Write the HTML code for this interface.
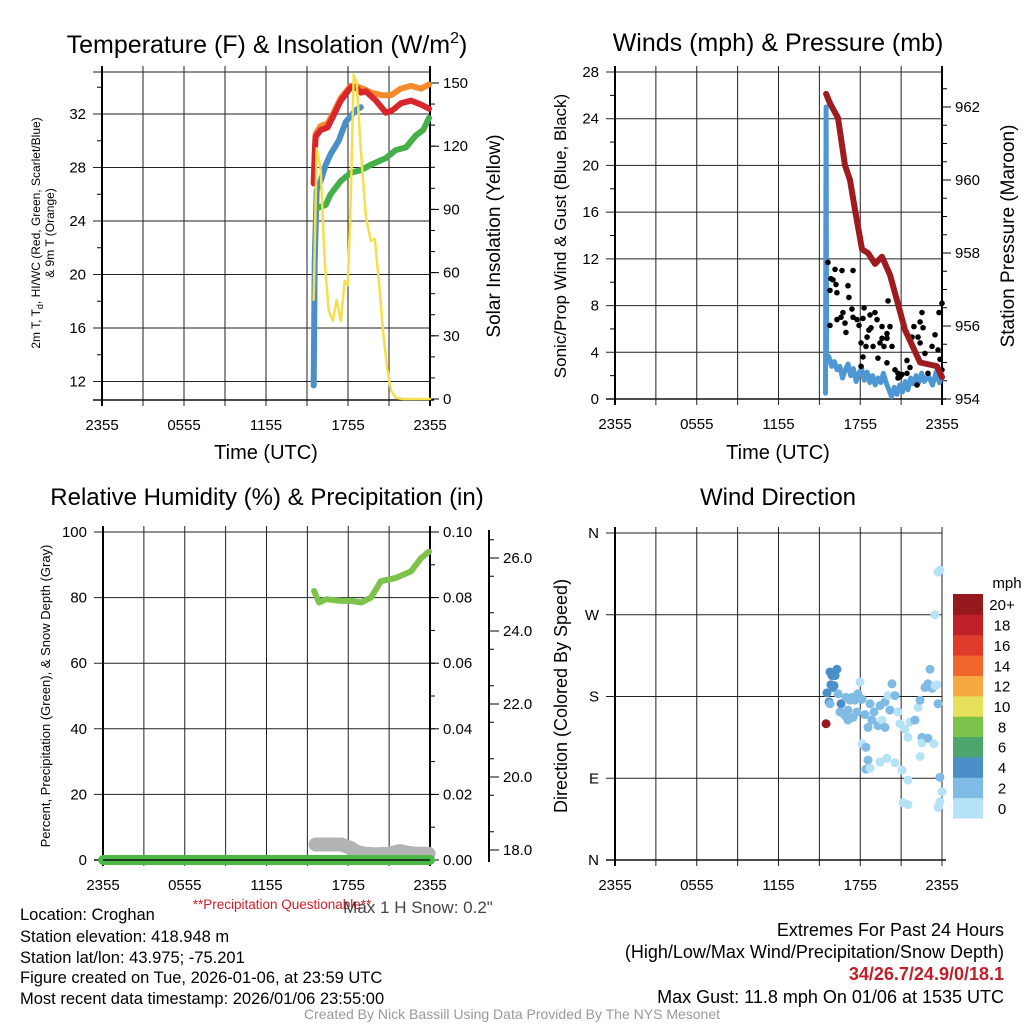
<!DOCTYPE html>
<html><head><meta charset="utf-8"><style>
html,body{margin:0;padding:0;background:#fff;}
svg{display:block;font-family:"Liberation Sans",sans-serif;}
</style></head><body>
<svg id="c" width="1024" height="1024" viewBox="0 0 1024 1024" xmlns="http://www.w3.org/2000/svg">
<g id="g1"></g>
<g id="g2"></g>
<g id="g3"></g>
<g id="g4"></g>
<text x="267" y="53" font-size="25" text-anchor="middle">Temperature (F) &amp; Insolation (W/m<tspan dy="-10" font-size="16">2</tspan><tspan dy="10">)</tspan></text>
<text x="778" y="51" font-size="25" text-anchor="middle">Winds (mph) &amp; Pressure (mb)</text>
<text x="267" y="505" font-size="24" text-anchor="middle">Relative Humidity (%) &amp; Precipitation (in)</text>
<text x="778" y="505" font-size="24" text-anchor="middle">Wind Direction</text>
<text transform="translate(40,233) rotate(-90)" font-size="12" text-anchor="middle">2m T, T<tspan dy="3" font-size="9">d</tspan><tspan dy="-3">, HI/WC (Red, Green, Scarlet/Blue)</tspan></text>
<text transform="translate(54,233) rotate(-90)" font-size="12" text-anchor="middle">&amp; 9m T (Orange)</text>
<text transform="translate(500,236) rotate(-90)" font-size="19" text-anchor="middle">Solar Insolation (Yellow)</text>
<text transform="translate(566,236) rotate(-90)" font-size="17" text-anchor="middle">Sonic/Prop Wind &amp; Gust (Blue, Black)</text>
<text transform="translate(1014,236) rotate(-90)" font-size="19" text-anchor="middle">Station Pressure (Maroon)</text>
<text transform="translate(50,696) rotate(-90)" font-size="13" text-anchor="middle">Percent, Precipitation (Green), &amp; Snow Depth (Gray)</text>
<text transform="translate(567,696) rotate(-90)" font-size="18" text-anchor="middle">Direction (Colored By Speed)</text>
<text x="266" y="459" font-size="20" text-anchor="middle">Time (UTC)</text>
<text x="778" y="459" font-size="20" text-anchor="middle">Time (UTC)</text>
<text x="282" y="909" font-size="13.5" fill="#d0202a" text-anchor="middle">**Precipitation Questionable**</text>
<text x="418" y="913" font-size="17" fill="#444" text-anchor="middle">Max 1 H Snow: 0.2"</text>
<g font-size="16.5">
<text x="20" y="920">Location: Croghan</text>
<text x="20" y="942">Station elevation: 418.948 m</text>
<text x="20" y="963">Station lat/lon: 43.975; -75.201</text>
<text x="20" y="983">Figure created on Tue, 2026-01-06, at 23:59 UTC</text>
<text x="20" y="1004">Most recent data timestamp: 2026/01/06 23:55:00</text>
</g>
<g font-size="18" text-anchor="end">
<text x="1004" y="936">Extremes For Past 24 Hours</text>
<text x="1004" y="958">(High/Low/Max Wind/Precipitation/Snow Depth)</text>
<text x="1004" y="980" fill="#c0202a" font-weight="bold">34/26.7/24.9/0/18.1</text>
<text x="1004" y="1003">Max Gust: 11.8 mph On 01/06 at 1535 UTC</text>
</g>
<text x="512" y="1019" font-size="14" fill="#999" text-anchor="middle">Created By Nick Bassill Using Data Provided By The NYS Mesonet</text>
</svg>
<script>
// ---- Data ----
const xTickLabels = ["2355","0555","1155","1755","2355"];
const tempTicks = [12,16,20,24,28,32];
const insolTicks = [0,30,60,90,120,150];
const windTicks = [0,4,8,12,16,20,24,28];
const presTicks = [954,956,958,960,962];
const rhTicks = [0,20,40,60,80,100];
const precipTicks = ["0.00","0.02","0.04","0.06","0.08","0.10"];
const snowTicks = [18,20,22,24,26];
const dirTicks = ["N","E","S","W","N"];
const speedBins = ["0","2","4","6","8","10","12","14","16","18","20+"];
const speedColors = ["#b5e2f7","#7fbbe5","#4a8fc7","#4aa66c","#7cc24b","#e6e05a","#f7a843","#f0652c","#e03a2c","#c0202a","#961a1d"];

const redHours = [15.49,15.56,15.63,16.0,16.51,16.95,17.47,18.2,18.57,18.94,19.3,20.04,20.77,21.28,21.87,22.6,23.34,23.93];
const redVals  = [26.8,29.0,30.3,30.8,31.0,31.9,33.0,34.0,34.0,33.6,33.7,33.0,32.1,32.3,32.8,33.0,32.7,32.4];
const orangeHours = [15.49,15.63,16.0,16.51,16.95,17.47,18.2,18.57,19.3,19.67,20.5,21.14,21.87,22.6,23.34,23.93];
const orangeVals  = [27.0,30.5,31.1,31.3,32.1,33.2,34.1,34.1,33.8,33.6,33.4,33.4,33.9,34.1,33.9,34.2];
const greenHours = [15.85,16.37,16.73,17.47,18.2,18.94,19.67,20.77,21.5,22.24,22.97,23.5,23.93];
const greenVals  = [25.0,25.2,26.0,27.0,27.6,27.8,28.2,28.7,29.3,29.5,30.4,30.8,31.7];
const blueHours = [15.49,15.56,15.71,16.0,16.37,16.73,17.32,17.83,18.57,18.94];
const blueVals  = [11.7,21.0,26.3,27.0,28.2,29.0,30.0,31.4,32.3,32.5];
const solarHours = [15.49,15.71,16.0,16.29,16.59,16.88,17.17,17.47,17.76,17.98,18.2,18.42,18.64,18.94,19.3,19.67,19.96,20.26,20.55,20.84,21.14,21.5,22.0,24.0];
const solarVals  = [47,119,109,66,42,37,47,37,56,54,94,154,150,118,87,75,76,56,33,16,4,0.5,0,0];

const presHours = [15.49,15.78,16.37,16.88,17.25,17.61,18.13,18.57,19.08,19.6,20.18,20.77,21.28,21.65,22.39,23.63,24.0];
const presVals  = [962.36,962.1,961.7,960.4,960.0,959.2,958.1,958.0,957.7,957.9,957.4,956.6,955.9,955.6,955.0,954.9,954.6];
const windHours = [15.45,15.49,15.53,15.7,15.9,16.1,16.3,16.5,16.7,16.9,17.1,17.3,17.5,17.7,17.9,18.1,18.3,18.5,18.7,18.9,19.1,19.3,19.5,19.7,19.9,20.1,20.3,20.5,20.7,20.9,21.1,21.3,21.5,21.7,21.9,22.1,22.3,22.5,22.7,23.0,23.3,23.6,23.8,24.0];
const windVals  = [0.5,25.0,3.8,3.6,2.8,3.2,2.5,2.8,1.8,2.5,3.0,2.0,2.6,1.5,2.2,2.6,1.6,2.3,1.4,2.0,1.2,1.8,1.4,2.2,1.4,0.8,0.2,1.0,0.4,1.2,0.6,1.5,0.8,1.8,1.3,2.0,1.4,2.2,1.5,2.0,1.2,2.4,1.4,2.0];
const gustHours = [15.63,16.15,16.66,17.47,15.85,16.0,16.22,15.78,16.29,17.1,17.17,20.04,24.0,15.78,16.29,16.73,16.59,16.88,16.95,17.39,17.47,17.76,17.91,18.2,18.28,18.72,18.79,18.64,19.08,19.23,18.5,18.06,18.42,18.94,19.45,19.6,19.74,19.6,19.96,20.18,20.33,19.3,19.96,18.2,18.06,20.55,20.77,20.92,21.06,20.77,21.43,21.43,21.65,22.17,21.8,21.94,22.39,22.53,22.61,22.24,22.39,22.75,22.97,23.27,23.49,23.71,23.78,23.85,24.0,19.96];
const gustVals  = [11.7,11.1,11.0,11.0,10.3,10.2,9.8,9.3,9.1,9.7,8.7,8.4,8.2,6.3,6.8,7.4,7.0,6.5,5.7,7.7,7.0,6.8,6.3,6.9,7.8,7.2,6.1,5.9,7.4,6.8,5.3,4.8,4.5,4.5,4.8,5.2,4.5,6.2,5.6,6.2,4.5,3.5,3.1,3.6,2.8,2.5,2.2,1.9,2.1,1.8,2.2,3.3,2.7,1.2,5.3,6.2,6.6,7.4,6.1,5.3,4.8,3.9,2.2,4.5,5.5,4.2,7.4,3.4,2.5,5.2];

const rhHours = [15.49,15.85,16.37,17.47,18.2,18.94,19.67,20.4,21.5,22.6,23.34,23.93];
const rhVals  = [82,78.5,79.5,79,79,78.5,80,85,86,88,92,94];
const precipHours = [0,24];
const precipVals  = [0,0];
const snowHours = [15.6,16.5,17.5,18.2,18.6,19.2,20.0,21.0,21.8,22.4,23.0,23.9];
const snowVals  = [18.15,18.15,18.15,18.05,17.95,17.9,17.88,17.9,17.97,17.92,17.9,17.9];

const dirHours = [15.56,15.78,15.93,16.07,16.29,16.0,15.71,15.49,15.78,16.37,16.59,16.51,16.88,17.1,17.39,17.61,17.76,17.98,18.35,18.57,18.86,19.01,19.3,19.45,19.6,19.82,20.04,20.18,20.33,20.55,20.77,20.92,21.28,21.5,21.65,22.02,22.24,22.39,22.53,22.75,22.97,23.12,23.27,23.49,23.71,22.53,19.82,18.13,18.42,18.57,18.42,18.72,19.45,19.96,20.55,21.06,21.5,22.39,22.97,23.41,23.63,23.85,24.0,23.85,23.71,21.14,21.5,23.49,23.71,23.85,17.83,17.25,16.95,16.15,15.85,17.1,17.47,18.13,18.72];
const dirVals  = [184,207,203,192,210,190,174,150,172,183,172,163,159,154,179,176,163,196,160,146,154,163,148,170,154,174,181,165,194,181,163,150,144,135,152,154,168,176,135,190,194,210,189,192,172,129,146,128,124,110,100,101,108,112,107,99,88,114,134,128,193,91,75,64,58,63,61,270,317,319,183,176,179,203,193,165,157,177,172];
const dirSpeeds= [5,5,4,5,5,4,4,21,3,3,4,2,2,2,2,2,2,0,2,2,2,2,2,2,1,2,1,2,2,2,1,1,1,1,1,2,1,2,2,2,2,3,2,1,2,1,2,1,2,2,2,0,0,1,1,0,0,1,2,1,0,2,1,1,0,0,0,0,0,0,2,2,2,4,4,2,2,2,2];

// ---- Helpers ----
const NS="http://www.w3.org/2000/svg";
function mk(parent, tag, attrs){const e=document.createElementNS(NS,tag);for(const k in attrs)e.setAttribute(k,attrs[k]);parent.appendChild(e);return e;}
function txt(parent,x,y,s,size,anchor){const t=mk(parent,'text',{x:x,y:y,'font-size':size,'text-anchor':anchor});t.textContent=s;return t;}
function scale(d0,d1,r0,r1){return v=>r0+(v-d0)/(d1-d0)*(r1-r0);}
function frame(g,L,T,R,B,yvals,ys){
  const xs=scale(0,24,L,R);
  for(let h=0;h<=24;h+=3){const x=xs(h);
    const l=mk(g,'line',{x1:x,y1:T-6,x2:x,y2:B+6,stroke:'#222','stroke-width':1});
    
    }
  yvals.forEach(v=>{const y=ys(v);
    const l=mk(g,'line',{x1:L-9,y1:y,x2:R,y2:y,stroke:'#222','stroke-width':1});
    
    });
  mk(g,'line',{x1:L-9,y1:T,x2:R,y2:T,stroke:'#222','stroke-width':1});
  mk(g,'line',{x1:L-9,y1:B,x2:R+4,y2:B,stroke:'#111','stroke-width':1.5});
  mk(g,'line',{x1:L,y1:T-6,x2:L,y2:B+6,stroke:'#000','stroke-width':2});
  xTickLabels.forEach((s,i)=>{const t=txt(g,xs(i*6),B+30,s,15,'middle');
    
    });
  return xs;
}
function rightAxis(g,R,T,B,ticks,labels,ys,minorStep){
  mk(g,'line',{x1:R,y1:T-6,x2:R,y2:B+6,stroke:'#000','stroke-width':2});
  ticks.forEach((v,i)=>{const y=ys(v);mk(g,'line',{x1:R,y1:y,x2:R+9,y2:y,stroke:'#000','stroke-width':1});
    const t=txt(g,R+13,y+5,labels[i],15,'start');
    
    });
  if(minorStep){for(let v=ticks[0];v<=ticks[ticks.length-1]+minorStep*4;v+=minorStep){const y=ys(v);if(y<T-1||y>B+1)continue;mk(g,'line',{x1:R,y1:y,x2:R+5,y2:y,stroke:'#000','stroke-width':1});}}
}
function leftLabels(g,L,ticks,labels,ys){ticks.forEach((v,i)=>{const t=txt(g,L-16,ys(v)+5,labels[i],15,'end');
  
  });}
function line(g,hours,vals,xs,ys,color,w,name){
  const d=hours.map((h,i)=>(i?'L':'M')+xs(h).toFixed(1)+','+ys(vals[i]).toFixed(1)).join('');
  const p=mk(g,'path',{d:d,fill:'none',stroke:color,'stroke-width':w,'stroke-linejoin':'round','stroke-linecap':'round'});
  
  
  return p;
}

// ---- Panel 1: Temperature ----
(function(){
 const g=document.getElementById('g1');const L=102,R=430,T=72,B=400;
 const ys=scale(32,12,114,381.5);const ys2=scale(0,150,399,83);
 const xs=frame(g,L,T,R,B,tempTicks,ys);
 leftLabels(g,L,tempTicks,tempTicks.map(String),ys);
 [14,18,22,26,30,34].forEach(v=>mk(g,'line',{x1:L-5,y1:ys(v),x2:L,y2:ys(v),stroke:'#000'}));
 rightAxis(g,R,T,B,insolTicks,insolTicks.map(String),ys2,10);
 line(g,blueHours,blueVals,xs,ys,'#4a8fc7',6,'heat-index-windchill-line');
 line(g,greenHours,greenVals,xs,ys,'#45b04a',6,'dewpoint-line');
 line(g,orangeHours,orangeVals,xs,ys,'#f58a2c',6,'9m-temperature-line');
 line(g,redHours,redVals,xs,ys,'#d8262c',6,'2m-temperature-line');
 line(g,solarHours,solarVals,xs,ys2,'#f5df4d',2.5,'solar-insolation-line');
})();

// ---- Panel 2: Winds ----
(function(){
 const g=document.getElementById('g2');const L=615,R=942,T=72,B=399;
 const ys=scale(0,28,399,72);const ys2=scale(954,962,399,107);
 const xs=frame(g,L,T,R,B,windTicks,ys);
 leftLabels(g,L,windTicks,windTicks.map(String),ys);
 [2,6,10,14,18,22,26].forEach(v=>mk(g,'line',{x1:L-5,y1:ys(v),x2:L,y2:ys(v),stroke:'#000'}));
 rightAxis(g,R,T,B,presTicks,presTicks.map(String),ys2,0.5);
 line(g,windHours,windVals,xs,ys,'#4f97d3',5,'wind-speed-line');
 gustHours.forEach((h,i)=>{const c=mk(g,'circle',{cx:xs(h),cy:ys(gustVals[i]),r:2.8,fill:'#000'});
   
   });
 line(g,presHours,presVals,xs,ys2,'#9e1b1f',6,'pressure-line');
})();

// ---- Panel 3: Humidity ----
(function(){
 const g=document.getElementById('g3');const L=103,R=430,T=532,B=860;
 const ys=scale(0,100,860,532);const ysP=scale(0,0.1,860,532);const ysS=scale(18,26,850,558);
 const xs=frame(g,L,T,R,B,rhTicks,ys);
 leftLabels(g,L,rhTicks,rhTicks.map(String),ys);
 rightAxis(g,R,T,B,[0,0.02,0.04,0.06,0.08,0.1],precipTicks,ysP,0.01);
 const SX=489;
 mk(g,'line',{x1:SX,y1:530,x2:SX,y2:862,stroke:'#000','stroke-width':2});
 snowTicks.forEach(v=>{const y=ysS(v);mk(g,'line',{x1:SX,y1:y,x2:SX+10,y2:y,stroke:'#000'});
   const t=txt(g,SX+14,y+5,v.toFixed(1),15,'start');
   
   });
 for(let v=17.5;v<=27;v+=1){const y=ysS(v);if(y<530||y>862)continue;mk(g,'line',{x1:SX,y1:y,x2:SX+5,y2:y,stroke:'#000'});}
 line(g,snowHours,snowVals,xs,ysS,'#b3b3b3',14,'snow-depth-line');
 line(g,precipHours,precipVals,xs,ysP,'#4cb848',10,'precipitation-line');
 mk(g,'line',{x1:L,y1:B,x2:R,y2:B,stroke:'#111','stroke-width':1.5});
 line(g,rhHours,rhVals,xs,ys,'#7cc24b',6,'relative-humidity-line');
})();

// ---- Panel 4: Wind Direction ----
(function(){
 const g=document.getElementById('g4');const L=615,R=942,T=533,B=860;
 const ys=scale(0,360,860,533);
 const xs=frame(g,L,T,R,B,[0,90,180,270,360],ys);
 leftLabels(g,L,[0,90,180,270,360],dirTicks,ys);
 dirHours.forEach((h,i)=>{const s=dirSpeeds[i];const bin=Math.min(10,Math.floor(s/2));
   const c=mk(g,'circle',{cx:xs(h),cy:ys(dirVals[i]),r:4.5,fill:speedColors[bin]});
   
   });
 const CX=953,CW=30,CT=594,CH=224/11;
 speedBins.forEach((lab,i)=>{const y=CT+(10-i)*CH;
   const r=mk(g,'rect',{x:CX,y:y,width:CW,height:CH+0.5,fill:speedColors[i]});
   
   
   const t=txt(g,1002,y+CH/2+6,lab,15,'middle');
   
   });
 const u=txt(g,1007,588,'mph',15,'middle');
 
 
})();
</script>
</body></html>
